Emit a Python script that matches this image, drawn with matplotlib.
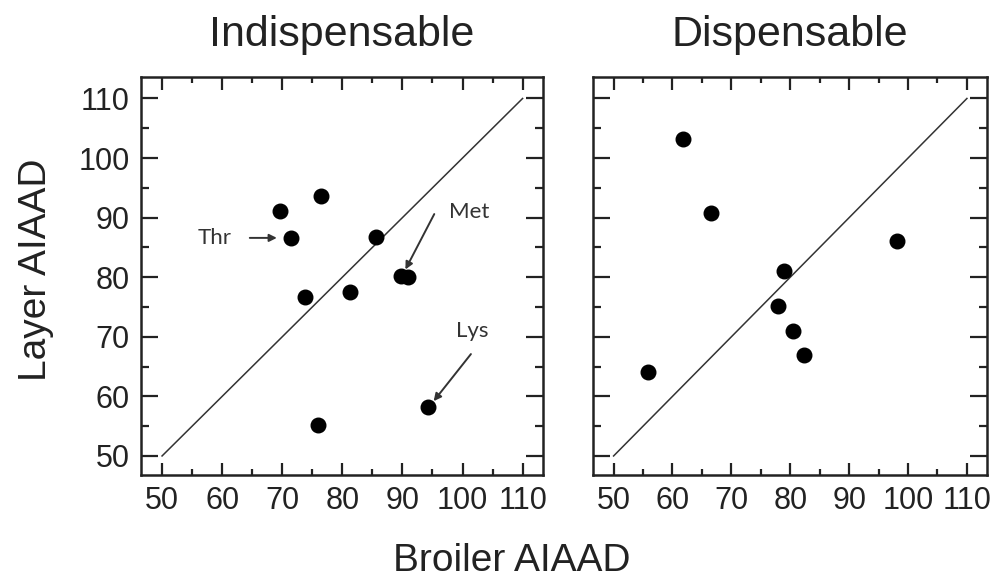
import numpy as np
import matplotlib
matplotlib.use("Agg")
import matplotlib.pyplot as plt
from matplotlib.ticker import MultipleLocator

plt.rcParams['font.family'] = ['Liberation Sans', 'DejaVu Sans']

# Indispensable amino acids (broiler vs layer AIAAD)
ind_broiler = [69.7, 76.5, 71.4, 85.6, 73.8, 81.2, 89.8, 91.0, 94.3, 76.0]
ind_layer = [91.1, 93.7, 86.5, 86.8, 76.6, 77.6, 80.2, 80.0, 58.3, 55.2]

# Dispensable amino acids
dis_broiler = [61.8, 66.5, 98.2, 78.9, 78.0, 80.4, 82.4, 55.9]
dis_layer = [103.2, 90.8, 86.1, 81.0, 75.2, 70.9, 66.9, 64.1]

titles = ["Indispensable", "Dispensable"]
ticks = [50, 60, 70, 80, 90, 100, 110]

# labelled amino acids: text position, arrow start, arrow tip
labels = ["Thr", "Met", "Lys"]
label_pos = [(58.8, 86.6), (101.1, 90.9), (101.7, 71.0)]
arrow_from = [(64.6, 86.6), (95.3, 90.6), (101.4, 67.1)]
arrow_to = [(69.1, 86.6), (90.5, 81.3), (95.2, 59.2)]

fig = plt.figure(figsize=(10.03, 5.83), dpi=100)
ax1 = fig.add_axes([0.1406, 0.1852, 0.4008, 0.6827])
ax2 = fig.add_axes([0.5912, 0.1852, 0.3928, 0.6827])

for ax, xs, ys, t in [(ax1, ind_broiler, ind_layer, titles[0]),
                      (ax2, dis_broiler, dis_layer, titles[1])]:
    ax.plot([50, 110], [50, 110], color='#333333', lw=1.1, zorder=1)
    ax.scatter(xs, ys, s=110, color='black', zorder=3)
    ax.set_xlim(46.5, 113.4)
    ax.set_ylim(46.8, 113.6)
    ax.set_xticks(ticks)
    ax.set_yticks(ticks)
    ax.xaxis.set_minor_locator(MultipleLocator(5))
    ax.yaxis.set_minor_locator(MultipleLocator(5))
    ax.tick_params(axis='both', which='both', direction='in', top=True, right=True,
                   width=1.6, colors='#222222', labelcolor='#222222', labelsize=22)
    ax.tick_params(axis='x', which='major', length=9, pad=8)
    ax.tick_params(axis='x', which='minor', length=4)
    ax.tick_params(axis='y', which='major', length=12, pad=8)
    ax.tick_params(axis='y', which='minor', length=6)
    for sp in ax.spines.values():
        sp.set_linewidth(1.8)
        sp.set_color('#222222')
    ax.set_title(t, fontsize=31, pad=22, color='#222222')

ax2.tick_params(axis='y', which='both', labelleft=False)

for lab, p, a, b in zip(labels, label_pos, arrow_from, arrow_to):
    ax1.text(p[0], p[1], lab, fontsize=16, family=['Lato', 'DejaVu Sans'],
             color='#333333', ha='center', va='center')
    ax1.annotate("", xy=b, xytext=a,
                 arrowprops=dict(arrowstyle='-|>', color='#333333', lw=1.4,
                                 mutation_scale=11, shrinkA=0, shrinkB=0))

fig.text(0.51, 0.02, "Broiler AIAAD", fontsize=28, ha='center', va='baseline', color='#222222')
fig.text(0.036, 0.537, "Layer AIAAD", fontsize=28, rotation=90, ha='center', va='center', color='#222222')

fig.savefig("out.png", dpi=100)
